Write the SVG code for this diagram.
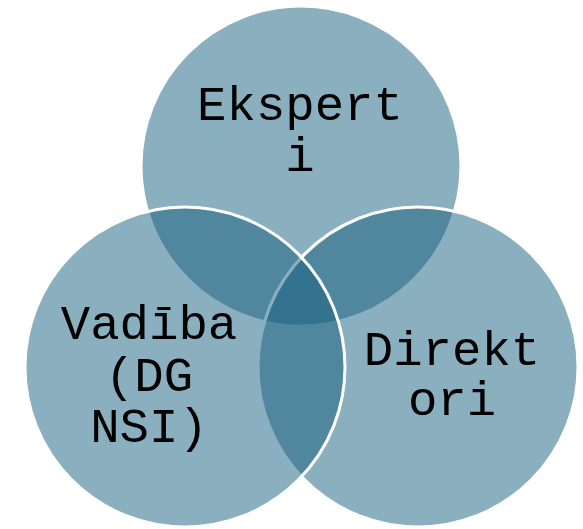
<svg xmlns="http://www.w3.org/2000/svg" width="583" height="529" viewBox="0 0 583 529">
<style>
.c{fill:#15607f;fill-opacity:0.5;stroke:#ffffff;stroke-width:3}
.t{font-family:"Courier New","Liberation Mono",monospace;font-size:49px;fill:#000000;text-anchor:middle}
</style>
<rect width="583" height="529" fill="#ffffff"/>
<g id="node-eksperti">
<circle class="c" cx="301" cy="166" r="160"/>
</g>
<g id="node-direktori">
<circle class="c" cx="418" cy="367" r="160"/>
</g>
<g id="node-vadiba">
<circle class="c" cx="185" cy="367" r="160"/>
</g>
<g id="labels">
<text class="t" x="300" y="120">Ekspert</text>
<text class="t" x="300" y="171">i</text>
<text class="t" x="149" y="339">Vadība</text>
<text class="t" x="149" y="391">(DG</text>
<text class="t" x="149" y="442">NSI)</text>
<text class="t" x="452" y="365">Direkt</text>
<text class="t" x="452" y="415">ori</text>
</g>
<g id="connectors"/>
</svg>
